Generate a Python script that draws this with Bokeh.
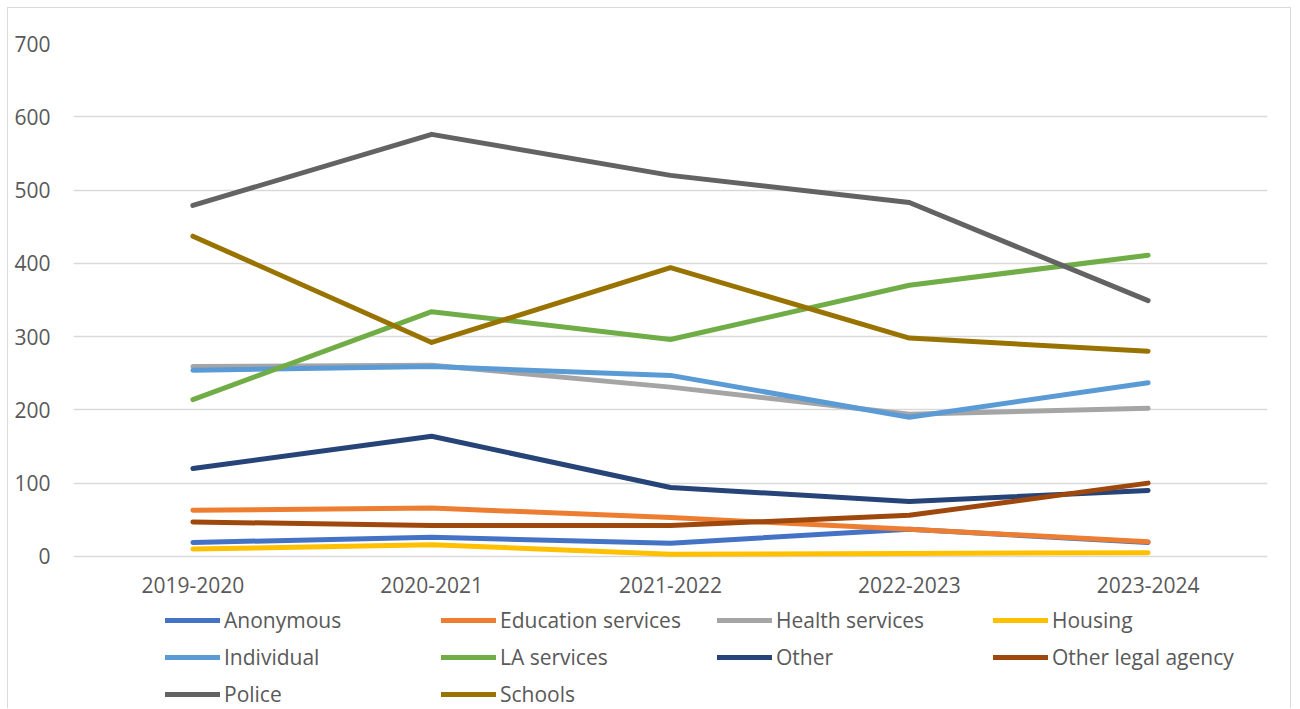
from bokeh.plotting import figure
from bokeh.models import Legend, LegendItem, FactorRange, Range1d, FixedTicker, ColumnDataSource
from bokeh.core.properties import value
from bokeh.embed import file_html
from bokeh.resources import INLINE

categories = ["2019-2020", "2020-2021", "2021-2022", "2022-2023", "2023-2024"]
anonymous = [19, 26, 18, 37, 19]
education_services = [63, 66, 53, 37, 20]
health_services = [259, 261, 231, 194, 202]
housing = [10, 16, 3, 4, 5]
individual = [254, 259, 247, 190, 237]
la_services = [214, 334, 296, 370, 411]
other = [120, 164, 94, 75, 90]
other_legal_agency = [47, 42, 42, 56, 100]
police = [479, 576, 520, 483, 349]
schools = [437, 292, 394, 298, 280]

series_names = ["Anonymous", "Education services", "Health services", "Housing",
                "Individual", "LA services", "Other", "Other legal agency",
                "Police", "Schools"]
series_values = [anonymous, education_services, health_services, housing,
                 individual, la_services, other, other_legal_agency,
                 police, schools]
colors = ["#4472C4", "#ED7D31", "#A5A5A5", "#FFC000", "#5B9BD5", "#70AD47",
          "#264478", "#9E480E", "#636363", "#997300"]
y_ticks = [0, 100, 200, 300, 400, 500, 600, 700]

FONT = "Open Sans"
TXT = "#595959"

# y range extends below 0 so that the category labels and legend sit inside the frame
p = figure(x_range=FactorRange(*categories, range_padding=0),
           y_range=Range1d(-209, 700),
           width=1284, height=701,
           output_backend="svg", toolbar_location=None,
           min_border_left=65, min_border_right=25,
           min_border_top=35, min_border_bottom=0)

p.styles = {"border": "1px solid #d9d9d9", "border-bottom": "none",
            "margin-left": "7px", "margin-top": "7px"}
p.outline_line_color = None
p.background_fill_color = "white"
p.border_fill_color = "white"

items = []
for name, vals, col in zip(series_names, series_values, colors):
    r = p.line(categories, vals, line_color=col, line_width=5,
               line_cap="round", line_join="round")
    items.append(LegendItem(label=name, renderers=[r]))

# category labels under the zero line
cat_src = ColumnDataSource(dict(x=categories, y=[0] * len(categories), t=categories))
p.text(x="x", y="y", text="t", source=cat_src, y_offset=29,
       text_align="center", text_baseline="middle",
       text_font=value(FONT), text_font_size="21px", text_color=TXT)

p.xaxis.visible = False
p.xgrid.grid_line_color = None
p.ygrid.grid_line_color = "#d9d9d9"
p.ygrid.grid_line_width = 1.3
p.yaxis.ticker = FixedTicker(ticks=y_ticks)

ax = p.yaxis[0]
ax.axis_line_color = None
ax.major_tick_line_color = None
ax.minor_tick_line_color = None
ax.major_tick_out = 0
ax.major_tick_in = 0
ax.major_label_text_font = FONT
ax.major_label_text_font_size = "21px"
ax.major_label_text_color = TXT
ax.major_label_standoff = 23

legend = Legend(items=items, ncols=4, orientation="horizontal",
                location=(92, 0), padding=0, margin=0, spacing=7,
                border_line_color=None, background_fill_alpha=0,
                glyph_width=55, glyph_height=30, label_height=30,
                label_width=210, label_standoff=4,
                label_text_font=FONT, label_text_font_size="21px",
                label_text_color=TXT)
p.add_layout(legend, "center")

open("out.html", "w").write(file_html(p, INLINE))
